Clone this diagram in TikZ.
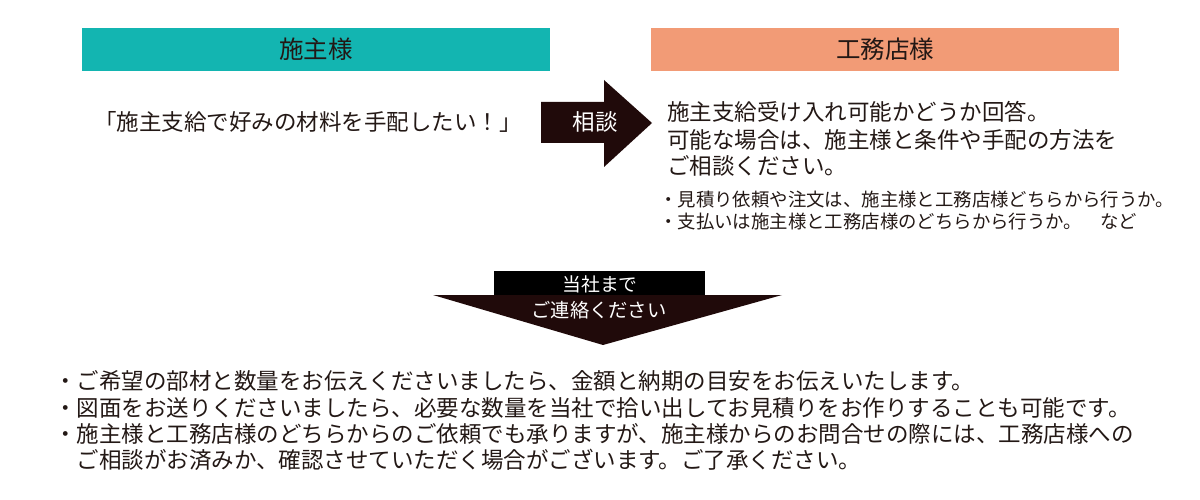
\documentclass[tikz,border=0pt]{standalone}
\usepackage{fontspec}
\setmainfont{Noto Sans CJK JP}
\definecolor{teal1}{HTML}{13B5B1}
\definecolor{salmon1}{HTML}{F29B76}
\definecolor{ink}{HTML}{231815}
\definecolor{arrowfill}{HTML}{200A0A}
\begin{document}
\begin{tikzpicture}[x=1pt,y=-1pt,
  header/.style={minimum width=468pt,minimum height=43pt,inner sep=0pt,text=ink,font=\fontsize{24.5}{26}\selectfont},
  body/.style={anchor=west,inner sep=0pt,text=ink,font=\fontsize{22.5}{26}\selectfont},
  small/.style={anchor=west,inner sep=0pt,text=ink,font=\fontsize{18.4}{22}\selectfont},
  wtext/.style={inner sep=0pt,text=white}]
\useasboundingbox (0,0) rectangle (1200,500);
% headers
\node[header,fill=teal1] (owner) at (316,49.5) {施主様};
\node[header,fill=salmon1] (builder) at (885,49.5) {工務店様};
% request
\node[body] (req) at (94,122) {「施主支給で好みの材料を手配したい！」};
% right arrow
\fill[arrowfill] (541,102) -- (604,102) -- (604,80) -- (652,123) -- (604,167) -- (604,143) -- (541,143) -- cycle;
\node[wtext,font=\fontsize{22.5}{24}\selectfont] (consult) at (595,122) {相談};
% builder answer
\node[body] (ans1) at (667,112) {施主支給受け入れ可能かどうか回答。};
\node[body] (ans2) at (667,140) {可能な場合は、施主様と条件や手配の方法を};
\node[body] (ans3) at (667,166) {ご相談ください。};
\node[small] (pt1) at (659,200) {・見積り依頼や注文は、施主様と工務店様どちらから行うか。};
\node[small] (pt2) at (659,222) {・支払いは施主様と工務店様のどちらから行うか。\hspace{1em}など};
% down arrow
\fill[black] (494,271) rectangle (705,296);
\fill[arrowfill] (433,295) -- (782,295) -- (603,345) -- cycle;
\node[wtext,font=\fontsize{18.8}{20}\selectfont] (contact1) at (600,284) {当社まで};
\node[wtext,font=\fontsize{19.3}{22}\selectfont] (contact2) at (599,310) {ご連絡ください};
% notes
\node[body] (n1) at (54,381) {・ご希望の部材と数量をお伝えくださいましたら、金額と納期の目安をお伝えいたします。};
\node[body] (n2) at (54,408) {・図面をお送りくださいましたら、必要な数量を当社で拾い出してお見積りをお作りすることも可能です。};
\node[body] (n3) at (54,434) {・施主様と工務店様のどちらからのご依頼でも承りますが、施主様からのお問合せの際には、工務店様への};
\node[body] (n4) at (76.5,460) {ご相談がお済みか、確認させていただく場合がございます。ご了承ください。};
\end{tikzpicture}
\end{document}
